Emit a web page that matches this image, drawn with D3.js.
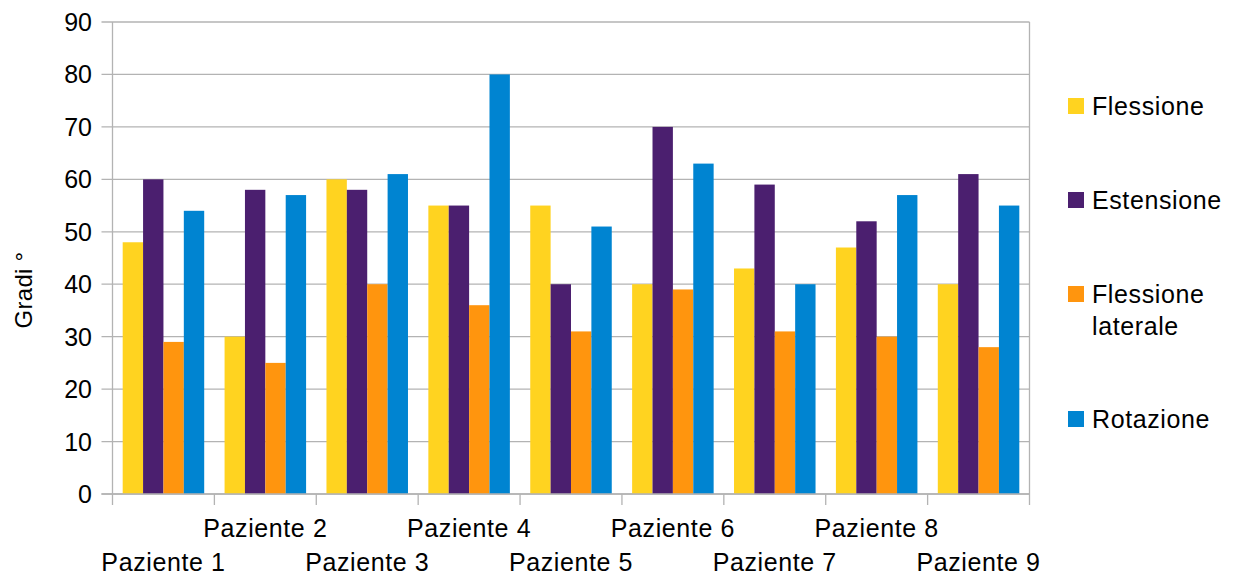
<!DOCTYPE html>
<html>
<head>
<meta charset="utf-8">
<script src="https://cdn.jsdelivr.net/npm/d3@7"></script>
<style>
  html, body { margin: 0; padding: 0; background: #fff; }
  svg { display: block; font-family: "Liberation Sans", Arial, sans-serif; }
</style>
</head>
<body>
<svg id="chart" width="1242" height="575"></svg>
<script>
// Range of motion per patient (degrees)
const patients = ["Paziente 1", "Paziente 2", "Paziente 3", "Paziente 4", "Paziente 5",
                  "Paziente 6", "Paziente 7", "Paziente 8", "Paziente 9"];
const seriesNames = ["Flessione", "Estensione", "Flessione laterale", "Rotazione"];
const flessione = [48, 30, 60, 55, 55, 40, 43, 47, 40];
const estensione = [60, 58, 58, 55, 40, 70, 59, 52, 61];
const flessioneLaterale = [29, 25, 40, 36, 31, 39, 31, 30, 28];
const rotazione = [54, 57, 61, 80, 51, 63, 40, 57, 55];
const yTicks = [0, 10, 20, 30, 40, 50, 60, 70, 80, 90];
const colors = ["#FFD320", "#4B1F6F", "#FF950E", "#0084D1"];

const seriesValues = [flessione, estensione, flessioneLaterale, rotazione];
const rows = patients.map((p, i) => ({ patient: p, values: seriesValues.map(s => s[i]) }));

const svg = d3.select("#chart");
const plotLeft = 112.5, plotRight = 1029.5, plotTop = 22, plotBottom = 494;
const fontSize = 25;
const wordSpacing = 0.6;
const gridColor = "#b3b3b3";

const x0 = d3.scaleBand().domain(patients).range([plotLeft, plotRight]).padding(0);
const bw = x0.bandwidth();
const x1 = d3.scaleBand().domain(d3.range(seriesNames.length))
  .range([bw * 0.1, bw * 0.9]).padding(0);
const y = d3.scaleLinear().domain([0, 90]).range([plotBottom, plotTop]);

// horizontal gridlines with outward ticks on the left
svg.append("g").selectAll("line").data(yTicks).join("line")
  .attr("x1", plotLeft - 11).attr("x2", plotRight)
  .attr("y1", d => y(d)).attr("y2", d => y(d))
  .attr("stroke", gridColor).attr("stroke-width", 1.3);

// y tick labels
svg.append("g").selectAll("text").data(yTicks).join("text")
  .attr("x", 92).attr("y", d => y(d)).attr("dy", "0.36em")
  .attr("text-anchor", "end").attr("font-size", fontSize).attr("fill", "#000")
  .text(d => d);

// bars
const groups = svg.append("g").selectAll("g").data(rows).join("g")
  .attr("transform", d => `translate(${x0(d.patient)},0)`);
groups.selectAll("rect").data(d => d.values.map((v, k) => ({ v, k }))).join("rect")
  .attr("x", d => x1(d.k)).attr("width", x1.bandwidth())
  .attr("y", d => y(d.v)).attr("height", d => y(0) - y(d.v))
  .attr("fill", d => colors[d.k]);

// frame: left axis, right edge, category ticks, baseline
const boundaries = d3.range(patients.length + 1).map(i => plotLeft + i * bw);
svg.append("g").selectAll("line").data(boundaries).join("line")
  .attr("x1", d => d).attr("x2", d => d)
  .attr("y1", (d, i) => (i === 0 || i === patients.length) ? plotTop : plotBottom)
  .attr("y2", plotBottom + 11)
  .attr("stroke", gridColor).attr("stroke-width", 1.3);
svg.append("line")
  .attr("x1", plotLeft - 11).attr("x2", plotRight).attr("y1", plotBottom).attr("y2", plotBottom)
  .attr("stroke", gridColor).attr("stroke-width", 1.3);

// category labels, staggered on two rows
svg.append("g").selectAll("text").data(patients).join("text")
  .attr("x", d => x0(d) + bw / 2)
  .attr("y", (d, i) => i % 2 === 0 ? 562 : 528)
  .attr("dy", "0.36em")
  .attr("text-anchor", "middle").attr("font-size", fontSize)
  .attr("letter-spacing", wordSpacing).attr("fill", "#000")
  .text(d => d);

// y axis title
svg.append("text")
  .attr("transform", "translate(23,290) rotate(-90)")
  .attr("dy", "0.36em").attr("text-anchor", "middle")
  .attr("font-size", 24).attr("letter-spacing", 0.3).attr("fill", "#000")
  .text("Gradi °");

// legend
const legendY = [106, 200, 294, 419];
const legendLines = [["Flessione"], ["Estensione"], ["Flessione", "laterale"], ["Rotazione"]];
const legend = svg.append("g").selectAll("g").data(seriesNames).join("g")
  .attr("transform", (d, i) => `translate(1068,${legendY[i]})`);
legend.append("rect")
  .attr("x", 0).attr("y", -8).attr("width", 16).attr("height", 16)
  .attr("fill", (d, i) => colors[i]);
legend.append("text")
  .attr("font-size", fontSize).attr("letter-spacing", wordSpacing).attr("fill", "#000")
  .selectAll("tspan").data((d, i) => legendLines[i]).join("tspan")
  .attr("x", 24).attr("y", (d, j) => j * 32).attr("dy", "0.36em")
  .text(d => d);
</script>
</body>
</html>
